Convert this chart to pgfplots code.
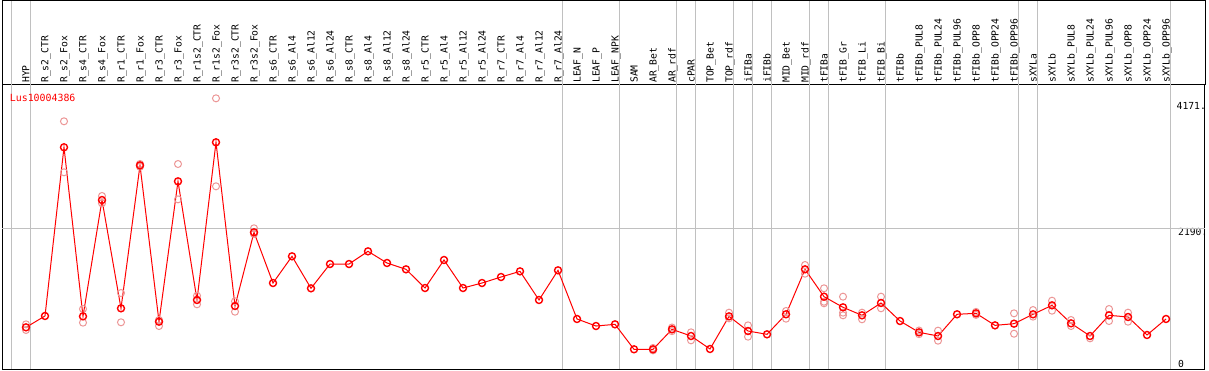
\documentclass[border=0pt]{standalone}
\usepackage{pgfplots}
\pgfplotsset{compat=1.18}
\usepackage{fontspec}
\newfontfamily\mono{DejaVu Sans Mono}
\definecolor{rep}{RGB}{236,150,150}
\definecolor{gridc}{RGB}{192,192,192}
\begin{document}
\begin{tikzpicture}
\begin{axis}[
  scale only axis, width=1203pt, height=284pt,
  xmin=-1.263, xmax=62.05, ymin=-149.7, ymax=4572.7,
  clip=false,
  axis line style={black, line width=1pt},
  major tick length=0pt, minor tick num=0,
  xtick={0,...,60},
  xticklabel pos=upper,
  xticklabels={HYP,R\_s2\_CTR,R\_s2\_Fox,R\_s4\_CTR,R\_s4\_Fox,R\_r1\_CTR,R\_r1\_Fox,R\_r3\_CTR,R\_r3\_Fox,R\_r1s2\_CTR,R\_r1s2\_Fox,R\_r3s2\_CTR,R\_r3s2\_Fox,R\_s6\_CTR,R\_s6\_Al4,R\_s6\_Al12,R\_s6\_Al24,R\_s8\_CTR,R\_s8\_Al4,R\_s8\_Al12,R\_s8\_Al24,R\_r5\_CTR,R\_r5\_Al4,R\_r5\_Al12,R\_r5\_Al24,R\_r7\_CTR,R\_r7\_Al4,R\_r7\_Al12,R\_r7\_Al24,LEAF\_N,LEAF\_P,LEAF\_NPK,SAM,AR\_Bet,AR\_rdf,cPAR,TOP\_Bet,TOP\_rdf,iFIBa,iFIBb,MID\_Bet,MID\_rdf,tFIBa,tFIB\_Gr,tFIB\_Li,tFIB\_Bi,tFIBb,tFIBb\_PUL8,tFIBb\_PUL24,tFIBb\_PUL96,tFIBb\_OPP8,tFIBb\_OPP24,tFIBb\_OPP96,sXYLa,sXYLb,sXYLb\_PUL8,sXYLb\_PUL24,sXYLb\_PUL96,sXYLb\_OPP8,sXYLb\_OPP24,sXYLb\_OPP96},
  xticklabel style={font=\fontsize{9.7}{11}\mono, rotate=90, anchor=west, inner sep=0pt, inner xsep=2pt, text height=7pt, text depth=0pt},
  ytick={0,2190}, yticklabels={0,2190.},
  yticklabel pos=right,
  yticklabel style={font=\fontsize{9.7}{11}\mono, anchor=north west, inner sep=0pt, xshift=-27pt},
  extra y ticks={4171}, extra y tick labels={4171.},
  extra y tick style={yticklabel style={yshift=7pt, xshift=-1.5pt}},
]
% grid lines
\foreach \gx in {-0.77,0.23,28.23,31.23,34.23,35.23,37.23,38.23,39.23,41.23,42.23,45.23,52.23,53.23,60.23}{
  \edef\tmp{\noexpand\draw[gridc, line width=1pt] (axis cs:\gx,-149.7) -- (axis cs:\gx,5978);}
  \tmp
}
\draw[gridc, line width=1pt] (axis cs:-1.263,2190) -- (axis cs:62.05,2190);
% replicates
\addplot[only marks, mark=o, mark size=3.5pt, rep, mark options={line width=1pt}] coordinates {
(0,593) (0,499) (2,3969) (2,3121) (3,848) (3,621) (4,2727) (4,2605) (5,1114) (5,627)
(6,3260) (6,3215) (7,665) (7,565) (8,3259) (8,2671) (9,1069) (9,926) (10,4351) (10,2888)
(11,976) (11,803) (12,2190) (12,2095) (33,160) (33,200) (34,540) (34,480) (35,460) (35,327)
(37,787) (37,693) (38,576) (38,388) (40,815) (40,687) (41,1580) (41,1435)
(42,1192) (42,969) (42,943) (43,1053) (43,787) (43,743) (44,787) (44,677) (45,1053) (45,860)
(47,490) (47,430) (48,488) (48,321) (50,800) (50,750) (52,776) (52,437) (53,831) (53,721)
(54,986) (54,820) (55,665) (55,565) (56,360) (57,848) (57,648) (58,787) (58,637)
};
% means
\addplot[red, line width=1pt, mark=o, mark size=3.5pt, mark options={line width=1.4pt}] coordinates {
(0,543) (1,732) (2,3537) (3,726) (4,2660) (5,859) (6,3237) (7,637) (8,2971) (9,998)
(10,3620) (11,898) (12,2123) (13,1280) (14,1724) (15,1192) (16,1596) (17,1596) (18,1807) (19,1613)
(20,1508) (21,1197) (22,1663) (23,1197) (24,1280) (25,1380) (26,1474) (27,998) (28,1491) (29,682)
(30,565) (31,593) (32,178) (33,178) (34,510) (35,399) (36,183) (37,726) (38,482) (39,427)
(40,760) (41,1508) (42,1053) (43,876) (44,743) (45,948) (46,648) (47,460) (48,399) (49,760)
(50,776) (51,576) (52,604) (53,760) (54,909) (55,610) (56,399) (57,743) (58,715) (59,416)
(60,682)
};
\node[anchor=west, inner sep=0pt, text=red, font=\fontsize{9.9}{11}\mono] at (axis cs:-0.858,4361) {Lus10004386};
\end{axis}
\draw[black, line width=1pt] (0,284pt) -- (0,368.5pt) -- (1203pt,368.5pt) -- (1203pt,284pt);
\pgfresetboundingbox
\path[use as bounding box] (-2pt,-1pt) rectangle (1207pt,369pt);
\end{tikzpicture}
\end{document}
